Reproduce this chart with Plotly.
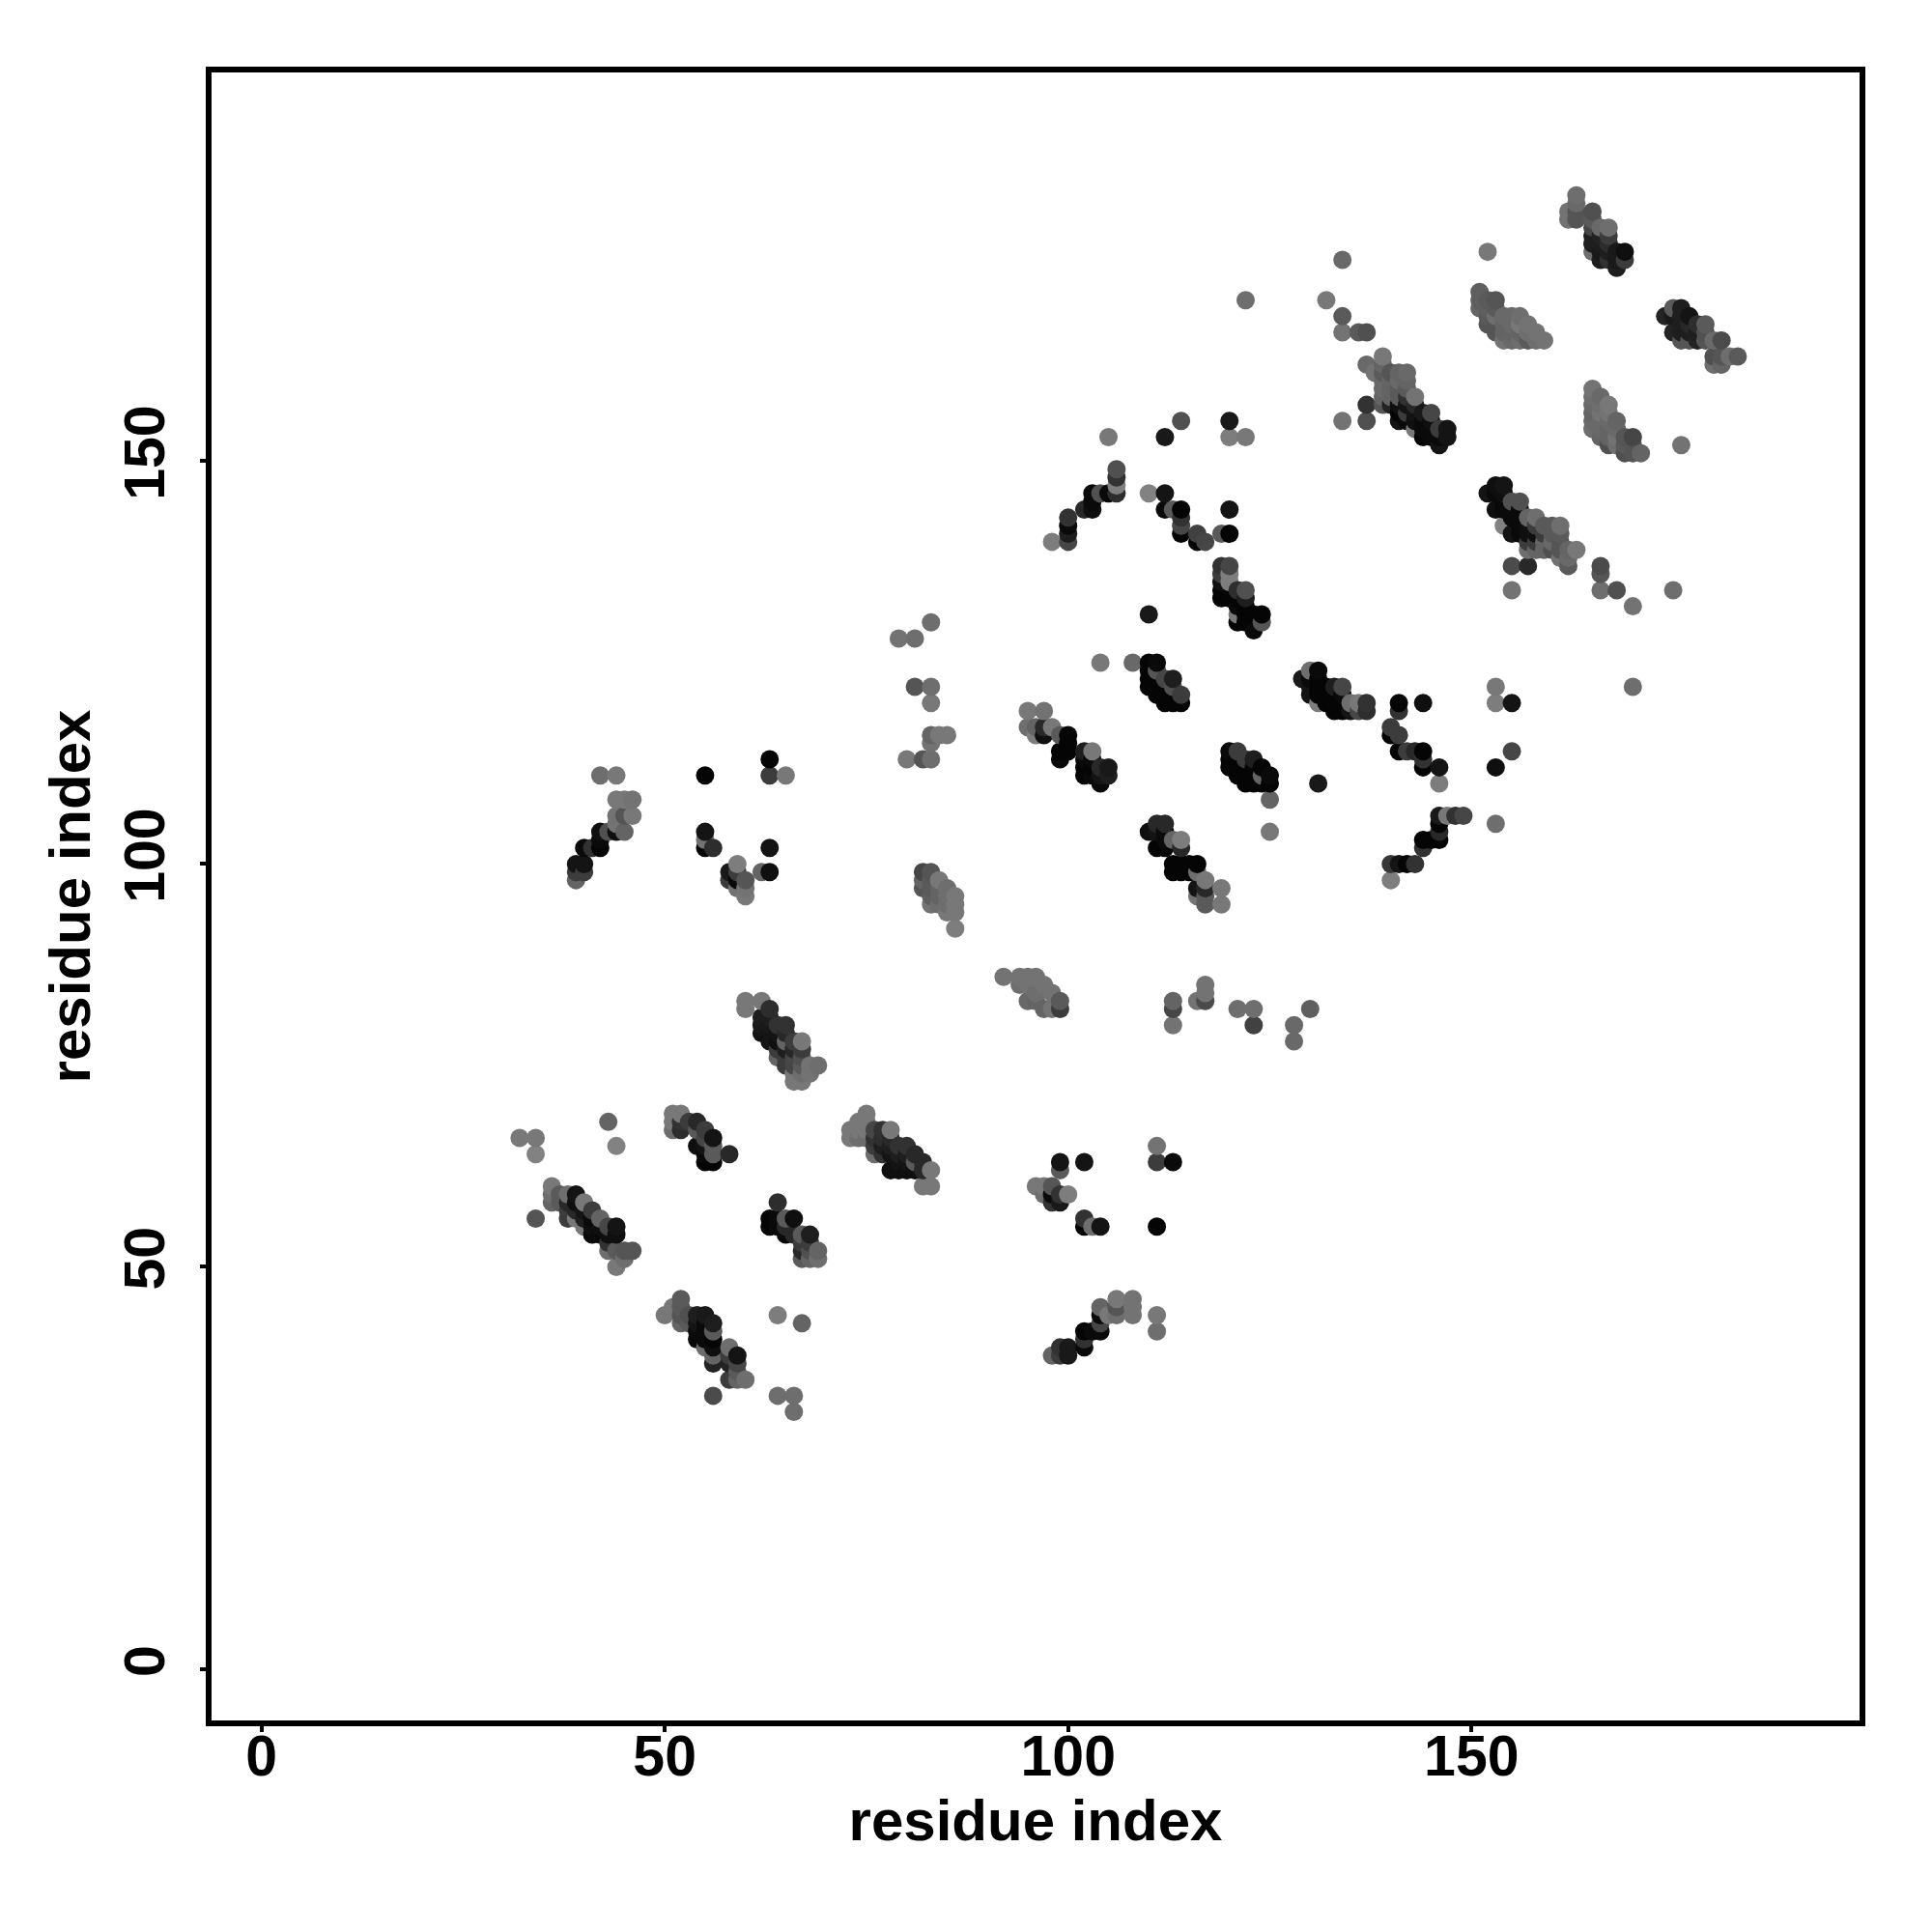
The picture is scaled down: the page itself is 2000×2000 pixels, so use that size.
import pandas as pd
import plotly.graph_objects as go

# contacts: (residue i, residue j, distance score: lower = stronger = darker)
c_a0 = [(32,66,120),(34,66,120),(34,64,130),(43,68,100),(44,65,130),(34,56,85)]
c_a = [(37,58,90),(38,57,60),(39,58,15),(39,57,40),(40,57,20),(41,57,60),(42,55,15),(43,53,50),(36,60,120),(36,59,110),(36,58,100),(37,59,90),(38,59,110),(39,59,20),(38,58,40),(40,58,120),(38,56,60),(39,56,120),(40,56,30),(41,56,10),(42,56,100),(40,55,120),(41,55,15),(41,54,10),(42,54,10),(43,55,70),(44,55,20),(43,54,15),(44,54,15),(43,52,110),(44,52,90),(45,52,85),(46,52,85),(44,50,120),(45,51,110)]
c_b = [(53,68,60),(55,65,20),(55,67,60),(51,69,120),(52,69,120),(51,68,120),(51,67,110),(52,68,50),(52,67,45),(54,68,40),(54,67,90),(55,66,70),(56,66,20),(54,65,15),(55,64,10),(56,65,90),(56,64,90),(55,63,5),(56,63,5),(58,64,40)]
c_c = [(64,55,10),(65,55,40),(67,53,60),(68,53,60),(68,52,80),(64,58,45),(63,56,5),(63,55,5),(64,56,10),(65,56,90),(66,56,15),(65,54,10),(66,54,40),(67,54,90),(68,54,30),(67,52,40),(67,51,90),(68,51,100),(69,52,100),(69,51,110)]
c_d = [(76,66,50),(76,65,60),(77,66,45),(78,66,40),(78,65,30),(79,64,30),(79,63,20),(80,64,30),(80,63,20),(75,66,110),(75,68,120),(81,64,40),(82,62,40),(74,67,120),(73,67,120),(73,66,120),(74,68,120),(74,66,110),(75,69,120),(75,67,120),(76,67,70),(77,67,50),(76,64,110),(77,64,50),(78,67,120),(77,65,30),(78,64,20),(79,65,50),(80,65,50),(78,62,15),(79,62,15),(80,62,15),(81,63,90),(81,62,15),(82,63,40),(83,62,120),(82,60,120),(83,60,120)]
c_e = [(53,44,80),(53,43,90),(55,43,10),(55,42,10),(54,43,20),(56,43,30),(58,39,60),(59,38,70),(50,44,120),(51,45,120),(52,46,90),(52,45,90),(52,44,85),(52,43,100),(54,44,30),(55,44,25),(54,42,10),(54,41,10),(55,41,10),(56,42,90),(56,41,5),(55,40,110),(56,40,15),(56,39,100),(56,38,35),(58,40,110),(59,39,20),(58,38,35),(58,36,60),(59,37,90),(59,36,100),(60,36,110),(56,34,75),(64,44,125),(67,43,100),(64,34,110),(66,34,110),(66,32,110)]
c_g = [(99,63,20),(99,62,90),(102,63,20),(111,65,115),(111,63,60),(113,63,10),(96,60,120),(97,60,120),(98,60,85),(97,59,110),(98,59,10),(99,59,50),(100,59,125),(98,58,50),(99,58,25),(102,56,50),(102,55,5),(103,55,110),(104,55,20),(111,55,5)]
c_h = [(98,39,100),(99,40,50),(99,39,60),(100,40,25),(100,39,25),(102,40,10),(102,41,50),(102,42,5),(103,42,10),(104,42,10),(104,43,70),(104,44,10),(104,45,100),(105,44,120),(106,46,120),(106,45,85),(106,44,110),(108,46,115),(108,45,115),(108,44,115),(111,44,120),(111,42,110)]
c_i = [(42,111,110),(44,111,120),(44,108,120),(45,108,120),(46,108,115),(44,106,115),(45,106,85),(46,106,120),(44,105,115),(45,104,100),(44,104,15),(43,104,80),(42,104,15),(42,103,10),(42,102,5),(41,102,50),(40,102,10),(39,100,20),(40,100,20),(39,99,60),(40,99,60),(39,98,100)]
c_j = [(55,111,5),(63,113,5),(63,111,60),(65,111,120),(55,104,20),(55,103,115),(55,102,5),(56,102,45),(63,102,20),(63,99,15),(62,99,100),(58,99,25),(58,98,60),(59,100,125),(59,99,60),(59,98,10),(59,97,115),(60,98,85),(60,97,115),(60,96,120)]
c_k = [(80,113,120),(82,113,85),(83,113,110),(83,116,100),(83,115,115),(84,116,120),(85,116,120),(79,128,115),(81,128,110),(83,130,110),(81,122,85),(83,122,110),(83,120,120)]
c_l = [(83,98,90),(83,97,90),(84,97,100),(84,95,110),(85,96,110),(82,99,70),(83,99,85),(82,98,100),(82,97,85),(83,96,95),(83,95,115),(84,98,120),(84,96,100),(85,97,110),(85,95,110),(85,94,120),(86,96,120),(86,95,120),(86,94,120),(86,92,125)]
c_f = [(63,81,30),(63,80,25),(63,79,20),(64,79,20),(65,79,40),(66,78,60),(66,77,40),(66,75,70),(67,76,80),(67,75,90),(67,74,110),(65,76,60),(63,78,20),(60,83,120),(62,83,120),(60,82,120),(63,82,45),(62,81,30),(62,80,25),(62,79,20),(64,80,50),(65,80,50),(64,78,15),(65,78,100),(67,78,120),(64,77,60),(64,76,100),(66,76,70),(67,77,60),(66,74,120),(66,73,120),(67,73,120),(68,75,115),(69,75,110),(68,74,115),(65,77,30),(65,75,60)]
c_m = [(111,123,5),(111,122,5),(111,121,5),(112,122,5),(113,121,5),(104,125,120),(108,125,105),(110,125,5),(111,125,10),(110,124,5),(110,123,5),(110,122,5),(111,124,85),(112,123,70),(113,123,30),(113,122,80),(112,121,5),(112,120,5),(113,120,5),(114,120,5),(114,121,60),(110,131,25)]
c_n = [(132,122,5),(132,121,5),(132,120,5),(133,121,5),(130,122,20),(131,120,125),(130,124,110),(131,124,10),(129,123,25),(130,123,10),(131,123,5),(130,121,20),(131,122,5),(131,121,5),(133,122,30),(134,122,70),(133,120,5),(133,119,5),(134,119,5),(134,121,10),(135,120,110),(136,120,120),(137,120,50),(135,119,20),(136,119,70),(137,119,45)]
c_o = [(103,113,10),(103,112,5),(100,115,5),(95,119,120),(97,119,115),(95,117,110),(96,116,125),(96,117,100),(97,117,40),(97,116,15),(98,117,120),(99,116,90),(100,116,5),(99,114,5),(100,114,5),(99,113,10),(102,114,30),(103,114,120),(102,113,10),(102,112,5),(102,111,5),(103,111,10),(104,112,40),(104,111,20),(104,110,10),(105,112,25),(105,111,30)]
c_p = [(121,113,5),(121,112,5),(121,111,5),(123,112,5),(123,111,5),(124,112,5),(120,114,10),(121,114,60),(120,113,5),(120,112,5),(122,113,60),(123,113,30),(122,112,5),(122,111,5),(122,110,5),(123,110,5),(124,111,100),(125,111,10),(125,110,5),(124,110,5),(125,108,100),(125,104,120),(131,110,25)]
c_q = [(112,104,10),(112,103,10),(113,100,5),(115,100,5),(115,99,5),(110,104,15),(111,105,40),(112,105,40),(111,104,20),(111,102,5),(112,102,5),(113,103,100),(114,103,125),(114,102,40),(113,99,5),(114,99,5),(114,100,5),(116,100,5),(116,99,110),(117,98,120),(116,97,20),(117,97,40),(116,96,115),(117,96,90),(117,95,90),(119,97,120),(119,95,120)]
c_r = [(92,86,115),(94,86,115),(95,86,115),(96,86,115),(94,85,110),(95,85,115),(97,85,115),(96,84,110),(98,84,115),(95,83,105),(96,83,100),(97,82,100),(98,82,115),(99,83,90),(99,82,60),(113,83,100),(113,82,70),(113,80,115),(116,83,115),(117,85,115),(117,84,115),(117,83,75),(121,82,110),(123,82,110),(123,80,65),(128,80,105),(128,78,105),(130,82,95)]
c_s = [(141,120,5),(141,119,50),(144,120,15),(140,117,60),(140,116,5),(141,116,60),(141,114,5),(142,114,60),(143,114,40),(144,114,5),(144,113,50),(144,112,5),(146,112,20),(146,110,125),(153,122,120),(153,120,125),(155,120,20),(155,114,70),(153,112,15),(153,105,110),(170,122,110)]
c_t = [(146,106,25),(147,106,120),(148,106,50),(149,106,70),(146,105,5),(146,104,40),(146,103,5),(144,103,5),(145,103,5),(144,102,50),(140,100,55),(141,100,20),(142,100,5),(143,100,50),(140,98,125)]
c_u = [(105,153,120),(112,153,25),(114,155,80),(120,155,25),(120,153,125),(122,153,120),(134,155,115),(137,155,80),(137,157,50),(122,170,110)]
c_v = [(106,149,80),(106,148,50),(106,147,125),(106,146,45),(105,146,10),(104,146,80),(103,146,10),(103,145,10),(103,144,15),(102,144,40),(100,143,50),(100,142,10),(100,141,30),(100,140,70),(98,140,125)]
c_w = [(110,146,130),(112,146,20),(112,144,10),(113,144,90),(114,144,5),(114,143,50),(114,142,70),(114,141,5),(116,141,65),(116,140,5),(117,140,70),(119,141,90),(120,141,5),(120,144,20)]
c_x = [(119,137,50),(120,137,70),(119,136,60),(120,136,125),(119,135,15),(120,135,125),(119,134,5),(119,133,5),(120,133,5),(121,134,45),(122,134,80),(122,133,30),(121,133,5),(121,132,10),(121,131,120),(121,130,5),(122,132,5),(122,131,5),(122,130,5),(123,129,10),(123,131,5),(124,131,5),(124,130,85)]
c_y = [(134,175,105),(132,170,120),(134,168,90),(134,166,115),(136,166,90),(137,166,80)]
c_z = [(140,159,100),(140,158,100),(141,160,105),(141,159,90),(142,158,50),(142,157,20),(143,157,40),(143,156,20),(144,155,10),(145,155,15),(145,154,10),(146,153,10),(142,160,100),(141,161,100),(137,162,105),(139,163,120),(138,161,115),(139,162,100),(139,161,90),(140,161,85),(142,161,105),(139,160,105),(140,160,100),(139,159,105),(139,158,100),(139,157,85),(142,159,90),(141,158,90),(143,158,115),(140,157,35),(141,157,15),(141,156,5),(141,155,20),(142,156,60),(142,155,10),(143,155,15),(144,156,25),(145,156,70),(143,154,120),(144,154,10),(144,153,5),(145,153,10),(146,154,60),(147,154,20),(147,153,20),(146,152,20)]
c_aa = [(152,168,90),(153,169,90),(153,167,85),(154,166,100),(155,167,105),(155,166,100),(156,166,100),(157,166,110),(156,168,110),(153,166,85),(152,176,120),(151,171,95),(151,170,95),(151,169,100),(152,170,90),(153,170,85),(152,169,95),(153,168,110),(152,167,85),(154,168,105),(155,168,105),(154,167,100),(154,165,115),(155,165,105),(156,167,120),(157,167,115),(156,165,110),(157,165,90),(158,166,115),(158,165,110),(159,165,115)]
c_ab = [(166,178,35),(166,176,25),(167,176,30),(168,175,25),(165,180,90),(165,179,70),(163,183,110),(163,182,105),(162,181,115),(162,180,115),(163,181,85),(163,180,85),(165,181,80),(166,179,105),(167,179,110),(165,178,30),(165,177,30),(165,176,110),(166,177,30),(167,177,45),(167,178,60),(166,175,30),(168,176,25),(169,176,15),(168,174,30),(169,175,60),(167,175,50)]
c_ac = [(176,166,30),(177,167,40),(177,166,30),(177,168,20),(178,166,30),(179,166,80),(179,165,85),(176,165,85),(174,168,35),(175,169,90),(176,169,30),(175,168,25),(176,168,30),(175,166,35),(176,167,30),(177,165,85),(178,167,45),(179,167,90),(178,165,35),(180,165,105),(181,165,75),(180,163,80),(180,162,110),(181,162,100),(181,163,85),(182,163,110),(183,163,90)]
c_ad = [(166,157,110),(166,155,105),(167,155,105),(167,154,100),(168,154,105),(166,153,100),(169,153,85),(170,152,85),(165,159,115),(165,158,110),(166,158,105),(167,157,120),(165,157,105),(165,156,100),(165,155,105),(165,154,110),(166,156,115),(166,154,105),(167,156,115),(168,155,100),(167,153,100),(167,152,80),(168,153,115),(168,152,110),(169,151,80),(170,153,70),(170,151,85),(171,151,100),(169,152,90),(176,152,115)]
c_ae = [(154,146,15),(154,145,10),(155,144,10),(156,144,10),(156,143,10),(157,142,15),(157,141,15),(158,142,60),(158,140,60),(159,141,60),(160,141,90),(160,142,90),(161,141,90),(152,146,20),(153,147,15),(154,147,20),(153,146,10),(153,144,15),(154,144,10),(155,145,80),(156,145,80),(154,142,130),(155,143,10),(155,141,20),(156,142,10),(156,141,10),(157,143,100),(158,143,110),(157,140,60),(157,139,110),(158,139,100),(158,141,15),(159,142,90),(159,140,100),(159,139,100),(161,142,110),(160,140,105),(160,139,80),(161,140,85),(161,139,85),(162,139,100),(163,139,120),(161,138,115),(162,137,90),(162,138,105)]
c_af = [(155,137,75),(157,137,40),(155,134,115),(166,137,75),(166,136,85),(166,134,110),(168,134,80),(170,132,115),(175,134,110)]

clusters = [c_a0,c_a,c_b,c_c,c_d,c_e,c_g,c_h,c_i,c_j,c_k,c_l,c_f,c_m,c_n,c_o,c_p,c_q,c_r,c_s,c_t,c_u,c_v,c_w,c_x,c_y,c_z,c_aa,c_ab,c_ac,c_ad,c_ae,c_af]
tick_values = [0, 50, 100, 150]
axis_label = "residue index"

df = pd.DataFrame([p for c in clusters for p in c], columns=["i", "j", "d"]).sort_values(["i", "j"], kind="stable")

tick_font = dict(family="Liberation Sans", size=59, color="black", weight="bold")
title_font = dict(family="Liberation Sans", size=60, color="black", weight="bold")
fig = go.Figure(go.Scatter(
    x=df["i"], y=df["j"], mode="markers",
    marker=dict(size=19, color=df["d"], cmin=0, cmax=130, line=dict(width=0),
                colorscale=[[0, "rgb(0,0,0)"], [1, "rgb(130,130,130)"]], showscale=False),
))
axis = dict(tickmode="array", tickvals=tick_values, ticks="outside", ticklen=6, tickwidth=4, tickcolor="black",
            showgrid=False, zeroline=False, showline=True, linecolor="black", linewidth=6, mirror=True,
            tickfont=tick_font)
fig.update_xaxes(range=[-6.18, 198.1], ticklabelstandoff=-26, title=dict(text=axis_label, font=title_font, standoff=15), **axis)
fig.update_yaxes(range=[-6.3, 198.26], ticklabelstandoff=13, title=dict(text=axis_label, font=title_font, standoff=6), tickangle=-90, **axis)
fig.update_layout(width=2000, height=2000, autosize=False, plot_bgcolor="white", paper_bgcolor="white",
                  margin=dict(l=219, r=75, t=75, b=219), showlegend=False)
fig.write_html("out.html", post_script="document.body.style.margin='0';", config={"displayModeBar": False})
